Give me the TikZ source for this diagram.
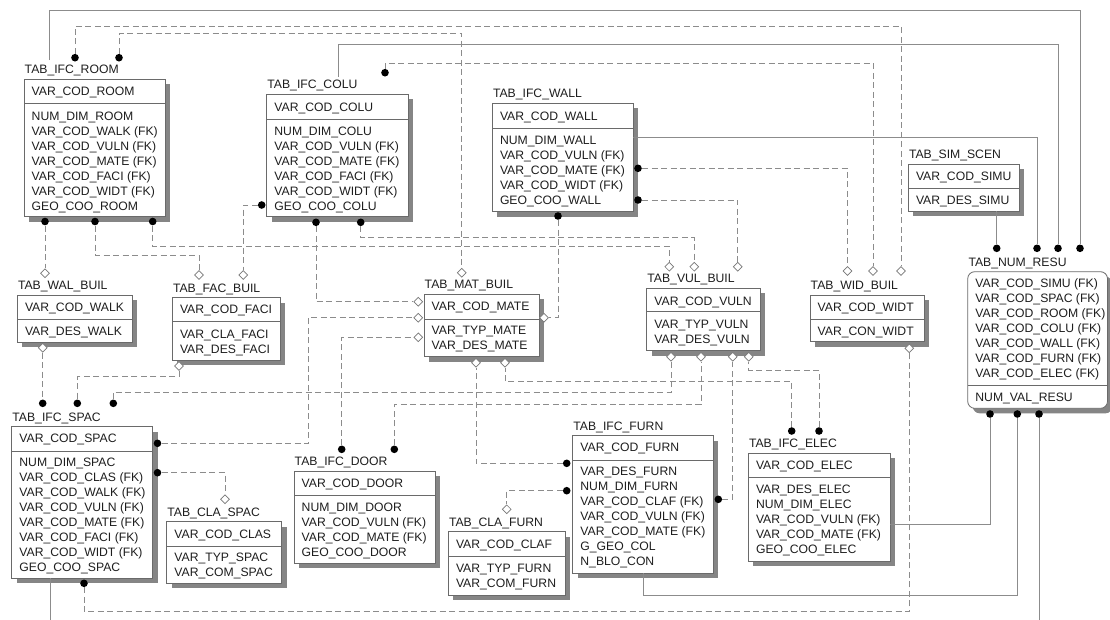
\documentclass[tikz,border=0pt]{standalone}
\usepackage{fontspec}
\setmainfont{Liberation Sans}
\usetikzlibrary{shapes.geometric}
\definecolor{linec}{HTML}{8C8C8C}
\definecolor{boxc}{HTML}{6A6A6A}
\definecolor{shadc}{HTML}{858585}
\definecolor{txtc}{HTML}{1E1E1E}
\definecolor{diac}{HTML}{777777}
\tikzset{
  tbox/.style={draw=boxc, fill=white, line width=0.8pt, inner sep=0pt, outer sep=0pt},
  rbox/.style={tbox, rounded corners=7pt},
  sepl/.style={draw=boxc, line width=0.8pt},
  ttl/.style={anchor=base west, inner sep=0pt, text=txtc, font=\fontsize{12.2}{15}\selectfont},
  rowt/.style={ttl},
  dot/.style={circle, fill=black, inner sep=0pt, minimum size=7.6pt},
  dia/.style={diamond, aspect=1, draw=diac, fill=white, line width=0.7pt, inner sep=0pt, minimum width=9pt, minimum height=9pt},
  fk/.style={draw=linec, line width=0.75pt, dash pattern=on 6pt off 3.5pt},
  idr/.style={draw=linec, line width=0.75pt},
}
% name, left, top, right, bottom, separator y, title, pk centre y, pk text
\newcommand\ertable[9]{%
  \fill[shadc] (#2+5,#3+5) rectangle (#4+5,#5+5);
  \node[tbox, anchor=north west, minimum width={#4-#2}, minimum height={#5-#3}] (#1) at (#2,#3) {};
  \draw[sepl] (#2,#6) -- (#4,#6);
  \node[ttl] (#1-title) at (#2+0.5,#3-5.6) {#7};
  \node[rowt] (#1-pk) at (#2+7.5,#8+4.4) {#9};
}
% left, first row centre y, rows
\newcommand\errows[3]{%
  \foreach \ertxt [count=\eri from 0] in {#3}
    \node[rowt] at (#1+7.5,#2+4.4+15*\eri) {\ertxt};
}
\begin{document}
\begin{tikzpicture}[x=1pt,y=-1pt]
\useasboundingbox (0,0) rectangle (1110,619);
\clip (0,0) rectangle (1110,619);
\fill[white] (0,0) rectangle (1110,619);

% ---------------- tables ----------------
\ertable{room}{24}{79.3}{165}{216.7}{103.7}{TAB\_IFC\_ROOM}{90.7}{VAR\_COD\_ROOM}
\errows{24}{115.7}{NUM\_DIM\_ROOM, {VAR\_COD\_WALK (FK)}, {VAR\_COD\_VULN (FK)}, {VAR\_COD\_MATE (FK)}, {VAR\_COD\_FACI (FK)}, {VAR\_COD\_WIDT (FK)}, GEO\_COO\_ROOM}

\ertable{colu}{266.7}{94.3}{408.3}{216.7}{119}{TAB\_IFC\_COLU}{106.7}{VAR\_COD\_COLU}
\errows{266.7}{130.7}{NUM\_DIM\_COLU, {VAR\_COD\_VULN (FK)}, {VAR\_COD\_MATE (FK)}, {VAR\_COD\_FACI (FK)}, {VAR\_COD\_WIDT (FK)}, GEO\_COO\_COLU}

\ertable{wall}{492.3}{103.3}{633.3}{211.7}{128.3}{TAB\_IFC\_WALL}{115.7}{VAR\_COD\_WALL}
\errows{492.3}{140}{NUM\_DIM\_WALL, {VAR\_COD\_VULN (FK)}, {VAR\_COD\_MATE (FK)}, {VAR\_COD\_WIDT (FK)}, GEO\_COO\_WALL}

\ertable{sim}{908.3}{164}{1019.3}{211}{188.3}{TAB\_SIM\_SCEN}{175.7}{VAR\_COD\_SIMU}
\errows{908.3}{200}{VAR\_DES\_SIMU}

\ertable{walb}{17.3}{295}{132.3}{342.3}{319.3}{TAB\_WAL\_BUIL}{306.7}{VAR\_COD\_WALK}
\errows{17.3}{330.7}{VAR\_DES\_WALK}

\ertable{facb}{172.3}{297.7}{280}{360}{321.7}{TAB\_FAC\_BUIL}{309.3}{VAR\_COD\_FACI}
\errows{172.3}{334}{VAR\_CLA\_FACI, VAR\_DES\_FACI}

\ertable{matb}{424}{294}{539.3}{356.7}{319}{TAB\_MAT\_BUIL}{305.7}{VAR\_COD\_MATE}
\errows{424}{330}{VAR\_TYP\_MATE, VAR\_DES\_MATE}

\ertable{vulb}{646.7}{288.3}{760}{350.7}{311.7}{TAB\_VUL\_BUIL}{300.7}{VAR\_COD\_VULN}
\errows{646.7}{324.3}{VAR\_TYP\_VULN, VAR\_DES\_VULN}

\ertable{widb}{810}{295}{924.3}{341.7}{319.3}{TAB\_WID\_BUIL}{306.7}{VAR\_COD\_WIDT}
\errows{810}{330.7}{VAR\_CON\_WIDT}

\ertable{spac}{11.7}{426.7}{152.7}{578.3}{451}{TAB\_IFC\_SPAC}{438.3}{VAR\_COD\_SPAC}
\errows{11.7}{461.7}{NUM\_DIM\_SPAC, {VAR\_COD\_CLAS (FK)}, {VAR\_COD\_WALK (FK)}, {VAR\_COD\_VULN (FK)}, {VAR\_COD\_MATE (FK)}, {VAR\_COD\_FACI (FK)}, {VAR\_COD\_WIDT (FK)}, GEO\_COO\_SPAC}

\ertable{clas}{166.7}{521.7}{281.7}{583.3}{546}{TAB\_CLA\_SPAC}{534}{VAR\_COD\_CLAS}
\errows{166.7}{557}{VAR\_TYP\_SPAC, VAR\_COM\_SPAC}

\ertable{door}{294}{471}{435}{563.3}{495}{TAB\_IFC\_DOOR}{482.7}{VAR\_COD\_DOOR}
\errows{294}{507.3}{NUM\_DIM\_DOOR, {VAR\_COD\_VULN (FK)}, {VAR\_COD\_MATE (FK)}, GEO\_COO\_DOOR}

\ertable{claf}{448.3}{531.7}{565}{595}{556}{TAB\_CLA\_FURN}{544}{VAR\_COD\_CLAF}
\errows{448.3}{567.7}{VAR\_TYP\_FURN, VAR\_COM\_FURN}

\ertable{furn}{572.7}{435.7}{713.3}{573.3}{460}{TAB\_IFC\_FURN}{447.3}{VAR\_COD\_FURN}
\errows{572.7}{471}{VAR\_DES\_FURN, NUM\_DIM\_FURN, {VAR\_COD\_CLAF (FK)}, {VAR\_COD\_VULN (FK)}, {VAR\_COD\_MATE (FK)}, G\_GEO\_COL, N\_BLO\_CON}

\ertable{elec}{748.3}{453.3}{890}{561}{477.7}{TAB\_IFC\_ELEC}{465}{VAR\_COD\_ELEC}
\errows{748.3}{489.3}{VAR\_DES\_ELEC, NUM\_DIM\_ELEC, {VAR\_COD\_VULN (FK)}, {VAR\_COD\_MATE (FK)}, GEO\_COO\_ELEC}

% rounded result table
\fill[shadc, rounded corners=7pt] (972.7,276.7) rectangle (1112.5,413.3);
\node[rbox, anchor=north west, minimum width=139.8, minimum height=136.6] (resu) at (967.7,271.7) {};
\draw[sepl] (967.7,385.7) -- (1107.5,385.7);
\node[ttl] (resu-title) at (968.3,266.1) {TAB\_NUM\_RESU};
\errows{967.7}{283.3}{{VAR\_COD\_SIMU (FK)}, {VAR\_COD\_SPAC (FK)}, {VAR\_COD\_ROOM (FK)}, {VAR\_COD\_COLU (FK)}, {VAR\_COD\_WALL (FK)}, {VAR\_COD\_FURN (FK)}, {VAR\_COD\_ELEC (FK)}}
\errows{967.7}{396.7}{NUM\_VAL\_RESU}

% ---------------- end symbols ----------------
\node[dot] (roomT1) at (75,57.7) {};
\node[dot] (roomT2) at (119,57.7) {};
\node[dot] (roomB1) at (45,221.5) {};
\node[dot] (roomB2) at (95,221.5) {};
\node[dot] (roomB3) at (152.7,221.5) {};
\node[dot] (coluT) at (385,72.7) {};
\node[dot] (coluL) at (261.7,205) {};
\node[dot] (coluB1) at (316,222.3) {};
\node[dot] (coluB2) at (360.7,222.3) {};
\node[dot] (wallR1) at (638,168.3) {};
\node[dot] (wallR2) at (638,200) {};
\node[dot] (wallB) at (558,216) {};
\node[dot] (resuT1) at (996.7,248.3) {};
\node[dot] (resuT2) at (1037,248.3) {};
\node[dot] (resuT3) at (1058,248.3) {};
\node[dot] (resuT4) at (1080,248.3) {};
\node[dot] (resuB1) at (990,414) {};
\node[dot] (resuB2) at (1017.3,414) {};
\node[dot] (resuB3) at (1039,414) {};
\node[dot] (spacT1) at (42.7,403.3) {};
\node[dot] (spacT2) at (77.3,403.3) {};
\node[dot] (spacT3) at (113.3,403.3) {};
\node[dot] (spacR1) at (157.5,443.3) {};
\node[dot] (spacR2) at (157.5,472.7) {};
\node[dot] (spacB) at (84,583.3) {};
\node[dot] (doorT1) at (341.7,449.3) {};
\node[dot] (doorT2) at (394.3,449.3) {};
\node[dot] (furnL1) at (566.7,463.3) {};
\node[dot] (furnL2) at (566.7,490.7) {};
\node[dot] (furnR) at (718.3,499.3) {};
\node[dot] (elecT1) at (791.7,431) {};
\node[dot] (elecT2) at (819,431) {};

\node[dia] (walT) at (45,273.3) {};
\node[dia] (walB) at (42.7,347.7) {};
\node[dia] (facT1) at (199,275) {};
\node[dia] (facT2) at (243.3,275) {};
\node[dia] (facB) at (179,366) {};
\node[dia] (matT) at (461.7,272.7) {};
\node[dia] (matL1) at (418.3,301.7) {};
\node[dia] (matL2) at (418.3,317.7) {};
\node[dia] (matL3) at (418.3,337.3) {};
\node[dia] (matR) at (544,317.7) {};
\node[dia] (matB1) at (476,362.7) {};
\node[dia] (matB2) at (505,362.7) {};
\node[dia] (vulT1) at (669.3,266.7) {};
\node[dia] (vulT2) at (694.3,266.7) {};
\node[dia] (vulT3) at (737.7,266.7) {};
\node[dia] (vulB1) at (671,356.7) {};
\node[dia] (vulB2) at (701,356.7) {};
\node[dia] (vulB3) at (732.7,356.7) {};
\node[dia] (vulB4) at (748.7,356.7) {};
\node[dia] (widT1) at (847.5,271) {};
\node[dia] (widT2) at (873,271) {};
\node[dia] (widT3) at (901,271) {};
\node[dia] (widB) at (909.3,348.3) {};
\node[dia] (claspT) at (225,499.3) {};
\node[dia] (clafT) at (506.7,509.3) {};

% free ends of identifying (solid) relationships
\coordinate (roomS) at (49.3,60);
\coordinate (coluS) at (338,77);
\coordinate (wallS) at (633.3,137.7);
\coordinate (simS) at (996.7,211);
\coordinate (spacS) at (50,578.3);
\coordinate (furnS) at (643.3,573.3);
\coordinate (elecS) at (890,524);

% ---------------- connectors ----------------
\draw[idr] (roomS) |- (resuT4 |- 0,10) -- (resuT4);
\draw[fk] (roomT1) -- (roomT1 |- 0,26) -| (widT3);
\draw[fk] (roomT2) -- (roomT2 |- 0,33.3) -| (matT);
\draw[fk] (roomB1) -- (walT);
\draw[fk] (roomB2) -- (roomB2 |- 0,255) -| (facT1);
\draw[fk] (roomB3) -- (roomB3 |- 0,246.3) -| (vulT1);

\draw[idr] (coluS) |- (resuT3 |- 0,44.3) -- (resuT3);
\draw[fk] (coluT) -- (coluT |- 0,63) -| (widT2);
\draw[fk] (coluL) -| (facT2);
\draw[fk] (coluB1) |- (matL1);
\draw[fk] (coluB2) -- (coluB2 |- 0,237.7) -| (vulT2);

\draw[idr] (wallS) -| (resuT2);
\draw[fk] (wallR1) -| (widT1);
\draw[fk] (wallR2) -| (vulT3);
\draw[fk] (wallB) |- (matR);

\draw[idr] (simS) -- (resuT1);

\draw[fk] (walB) -- (spacT1);
\draw[fk] (facB) -- (facB |- 0,376.7) -| (spacT2);
\draw[fk] (spacT3) -- (spacT3 |- 0,392) -| (vulB1);
\draw[fk] (spacR1) -- (spacR1 -| 308.3,0) |- (matL2);
\draw[fk] (spacR2) -| (claspT);
\draw[fk] (spacB) -- (spacB |- 0,611.7) -| (widB);
\draw[idr] (spacS) |- (resuB3 |- 0,640) -- (resuB3);

\draw[fk] (doorT1) |- (matL3);
\draw[fk] (doorT2) -- (doorT2 |- 0,404.3) -| (vulB2);

\draw[fk] (furnL1) -| (matB1);
\draw[fk] (furnL2) -| (clafT);
\draw[fk] (furnR) -| (vulB3);
\draw[idr] (furnS) |- (resuB2 |- 0,595) -- (resuB2);

\draw[fk] (elecT1) -- (elecT1 |- 0,381.7) -| (matB2);
\draw[fk] (elecT2) -- (elecT2 |- 0,370) -| (vulB4);
\draw[idr] (elecS) -| (resuB1);
\end{tikzpicture}
\end{document}
